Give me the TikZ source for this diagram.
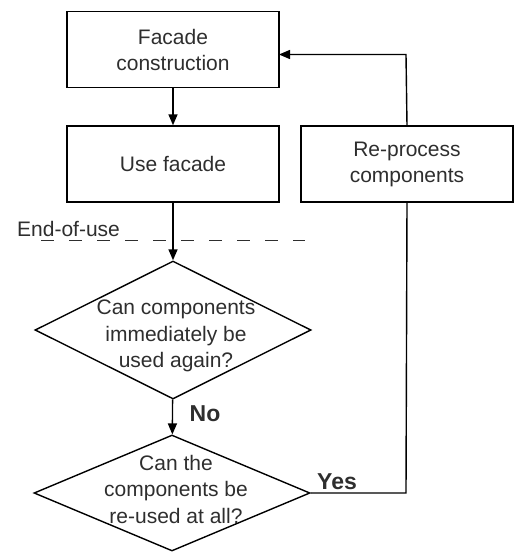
\documentclass[tikz,border=0pt]{standalone}
\usepackage{fontspec}
\setmainfont{Liberation Sans}
\usetikzlibrary{shapes.geometric,arrows.meta}
\definecolor{txt}{HTML}{2E2E2E}
\tikzset{
  every picture/.style={x=1pt,y=-1pt},
  box/.style={draw, line width=1.4pt, minimum width=212pt, minimum height=76pt, inner sep=0pt,
    align=center, font=\fontsize{21}{26}\selectfont, text=txt},
  dia/.style={draw, diamond, line width=1.4pt, inner sep=0pt, minimum width=276pt, minimum height=#1},
  dtext/.style={align=center, font=\fontsize{21}{26.5}\selectfont, text=txt, inner sep=0pt},
  conn/.style={line width=1.4pt, -{Triangle[length=11pt,width=9pt]}},
  plainline/.style={line width=1.4pt},
  lbl/.style={font=\fontsize{23}{26}\selectfont\bfseries, text=txt, inner sep=0pt},
}
\begin{document}
\begin{tikzpicture}
\useasboundingbox (0,0) rectangle (518,552);
\node[box] (fc) at (173,49.5) {Facade\\construction};
\node[box] (uf) at (173,164) {Use facade};
\node[box] (rp) at (407,164) {Re-process\\components};
\node[dia=138pt] (d1) at (173,330) {};
\node[dtext] (d1t) at (176,336) {Can components\\immediately be\\used again?};
\node[dia=116pt] (d2) at (172,493) {};
\node[dtext] (d2t) at (176,489) {Can the\\components be\\re-used at all?};
\node[font=\fontsize{21}{26}\selectfont, text=txt, inner sep=0pt, anchor=base west] (eou) at (17,236) {End-of-use};
\coordinate (dl) at (41,240);
\coordinate (dr) at (305,240);
\draw[line width=1pt, dash pattern=on 13pt off 15pt, txt] (dl) -- (dr);
\draw[conn] (fc) -- (uf);
\draw[conn] (uf) -- (d1);
\draw[conn] (d1) -- (d2);
\node[lbl] (no) at (205,414) {No};
\node[lbl] (yes) at (337,482) {Yes};
\coordinate (c1) at (406,493);
\coordinate (c2) at (406,54.5);
\coordinate (c3) at (279,54.5);
\draw[plainline] (d2.east) -- (c1) -- (rp.south);
\draw[conn] (rp.north) -- (c2) -- (c3);
\end{tikzpicture}
\end{document}
